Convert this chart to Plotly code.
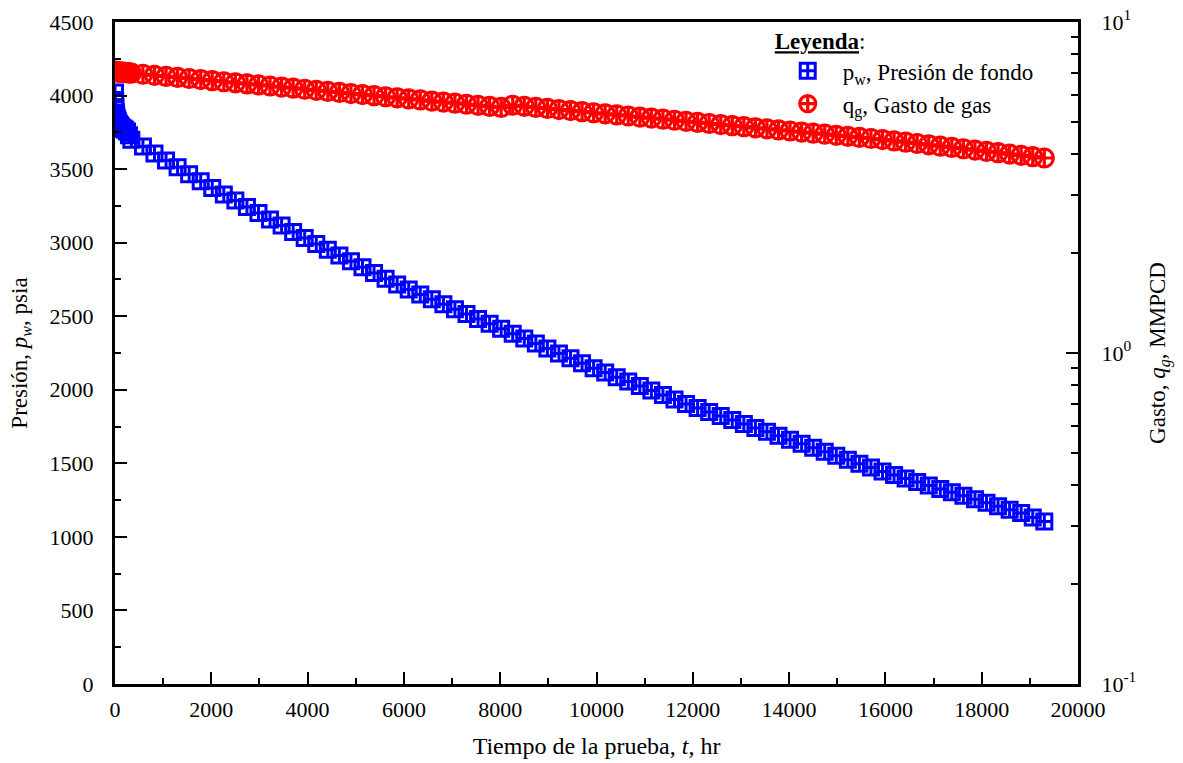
import plotly.graph_objects as go

# ---------------- data ----------------
t_hr = [0, 5, 10, 20, 30, 45, 60, 80, 100, 125, 150, 180, 210, 250, 290,
        340, 580, 820, 1060, 1300, 1540, 1780, 2020, 2260, 2500, 2740, 2980,
        3220, 3460, 3700, 3940, 4180, 4420, 4660, 4900, 5140, 5380, 5620, 5860,
        6100, 6340, 6580, 6820, 7060, 7300, 7540, 7780, 8020, 8260, 8500, 8740,
        8980, 9220, 9460, 9700, 9940, 10180, 10420, 10660, 10900, 11140, 11380,
        11620, 11860, 12100, 12340, 12580, 12820, 13060, 13300, 13540, 13780,
        14020, 14260, 14500, 14740, 14980, 15220, 15460, 15700, 15940, 16180,
        16420, 16660, 16900, 17140, 17380, 17620, 17860, 18100, 18340, 18580,
        18820, 19060, 19300]

p_w = [4020, 3960, 3920, 3885, 3860, 3840, 3825, 3810, 3800, 3790, 3782, 3775,
       3768, 3755, 3730,
       3700, 3653, 3606, 3559, 3512, 3465, 3418, 3371, 3328, 3286, 3243, 3201,
       3158, 3116, 3073, 3031, 2991, 2952, 2912, 2873, 2833, 2794, 2754, 2715,
       2682, 2648, 2615, 2581, 2548, 2515, 2481, 2448, 2414, 2381, 2348, 2314,
       2281, 2247, 2214, 2180, 2147, 2117, 2086, 2056, 2025, 1995, 1964,
       1934, 1903, 1876, 1849, 1822, 1795, 1768, 1741, 1714, 1687,
       1660, 1633, 1606, 1579, 1552, 1525, 1498, 1471, 1444, 1420,
       1397, 1373, 1350, 1326, 1303, 1279, 1256, 1232, 1209, 1185,
       1162, 1132, 1105]

q_g = [7.10, 7.10, 7.09, 7.09, 7.08, 7.08, 7.07, 7.07, 7.06, 7.06, 7.05, 7.05,
       7.04, 7.03, 7.02,
       7.005, 6.953, 6.901, 6.850, 6.799, 6.749, 6.699, 6.649, 6.600, 6.551,
       6.502, 6.454, 6.406, 6.358, 6.311, 6.264, 6.217, 6.171, 6.125, 6.080,
       6.035, 5.990, 5.945, 5.901, 5.857, 5.814, 5.771, 5.728, 5.685, 5.643,
       5.601, 5.560, 5.519, 5.604, 5.562, 5.521, 5.480, 5.439, 5.399, 5.359,
       5.319, 5.279, 5.240, 5.201, 5.162, 5.124, 5.086, 5.048, 5.010, 4.973,
       4.936, 4.899, 4.863, 4.827, 4.791, 4.755, 4.720, 4.685, 4.650, 4.615,
       4.581, 4.547, 4.513, 4.479, 4.446, 4.413, 4.373, 4.333, 4.294, 4.255,
       4.216, 4.178, 4.140, 4.102, 4.065, 4.028, 3.991, 3.955, 3.919, 3.883]

x_ticks = [0, 2000, 4000, 6000, 8000, 10000, 12000, 14000, 16000, 18000, 20000]
x_ticktext = ["0", "2000", "4000", "6000", "8000", "10000", "12000", "14000",
              "16000", "18000", "20000"]
y_ticks = [0, 500, 1000, 1500, 2000, 2500, 3000, 3500, 4000, 4500]
y_ticktext = ["0", "500", "1000", "1500", "2000", "2500", "3000", "3500",
              "4000", "4500"]
y2_ticks = [0.1, 1, 10]
y2_ticktext = ["10<sup>-1</sup>", "10<sup>0</sup>", "10<sup>1</sup>"]
y2_minor = [0.2, 0.3, 0.4, 0.5, 0.6, 0.7, 0.8, 0.9, 2, 3, 4, 5, 6, 7, 8, 9]

FONT = "Liberation Serif"

fig = go.Figure()
fig.add_trace(go.Scatter(
    x=t_hr, y=p_w, mode="markers", name="p<sub>w</sub>, Presión de fondo",
    marker=dict(symbol="square-cross-open", size=15, color="#0000ff",
                line=dict(width=3, color="#0000ff")),
    yaxis="y"))
fig.add_trace(go.Scatter(
    x=t_hr, y=q_g, mode="markers", name="q<sub>g</sub>, Gasto de gas",
    marker=dict(symbol="circle-cross-open", size=18, color="#ff0000",
                line=dict(width=3.2, color="#ff0000")),
    yaxis="y2"))

fig.update_layout(
    width=1183, height=763,
    margin=dict(l=115, r=105, t=22, b=79, autoexpand=False),
    paper_bgcolor="white", plot_bgcolor="white",
    font=dict(family=FONT, size=22, color="black"),
    showlegend=True,
    legend=dict(
        x=0.683, y=1.004, xanchor="left", yanchor="top",
        bgcolor="rgba(0,0,0,0)", borderwidth=0,
        font=dict(family=FONT, size=23, color="black"),
        title=dict(text="<b><u>Leyenda</u></b>:", font=dict(family=FONT, size=23)),
        itemsizing="trace", itemwidth=60, tracegroupgap=0,
    ),
    xaxis=dict(
        range=[0, 20000], tickvals=x_ticks, ticktext=x_ticktext,
        ticks="inside", ticklen=12, tickwidth=2, automargin=False,
        tickcolor="black", showline=True, linewidth=3, linecolor="black",
        mirror=True, showgrid=False, zeroline=False, ticklabelstandoff=4,
        minor=dict(dtick=1000, ticks="inside", ticklen=6, tickwidth=2, tickcolor="black"),
        title=dict(text="Tiempo de la prueba, <i>t</i>, hr",
                   font=dict(family=FONT, size=24), standoff=16),
    ),
    yaxis=dict(
        range=[0, 4500], tickvals=y_ticks, ticktext=y_ticktext,
        ticks="inside", ticklen=12, tickwidth=2, automargin=False,
        tickcolor="black", showline=True, linewidth=3, linecolor="black",
        showgrid=False, zeroline=False, ticklabelstandoff=14,
        minor=dict(dtick=250, ticks="inside", ticklen=6, tickwidth=2, tickcolor="black"),
        title=dict(text="Presión, <i>p<sub>w</sub></i>, psia",
                   font=dict(family=FONT, size=23), standoff=16),
    ),
    yaxis2=dict(
        type="log", range=[-1, 1], overlaying="y", side="right",
        tickvals=y2_ticks, ticktext=y2_ticktext, ticks="inside", ticklen=12,
        tickwidth=2, tickcolor="black", showline=True, linewidth=3,
        automargin=False,
        linecolor="black", showgrid=False, zeroline=False, ticklabelstandoff=16,
        minor=dict(tickvals=y2_minor, ticks="inside", ticklen=7, tickwidth=2,
                   tickcolor="black"),
        title=dict(text="Gasto, <i>q<sub>g</sub></i>, MMPCD",
                   font=dict(family=FONT, size=23), standoff=14),
    ),
)

fig.write_html("out.html")
